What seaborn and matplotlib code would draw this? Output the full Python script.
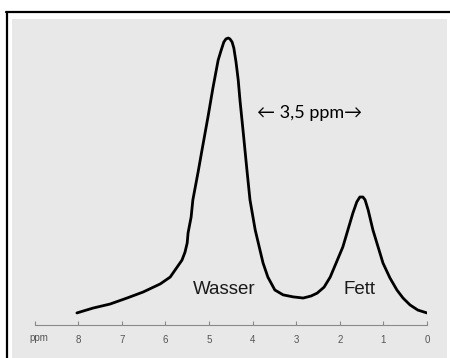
import matplotlib
matplotlib.use("Agg")
import matplotlib.pyplot as plt
from matplotlib.patches import Rectangle
from matplotlib.lines import Line2D
import seaborn as sns
import pandas as pd

# chemical shift (ppm) and relative signal intensity
ppm = [8.03, 7.66, 7.27, 6.88, 6.51, 6.12, 5.89, 5.73, 5.62, 5.55, 5.50, 5.48, 5.41,
       5.37, 5.25, 5.16, 5.02, 4.91, 4.79, 4.72, 4.66, 4.61, 4.56, 4.52, 4.47, 4.43,
       4.38, 4.33, 4.29, 4.22, 4.13, 4.06, 3.94, 3.76, 3.65, 3.49, 3.30, 3.07, 2.84,
       2.66, 2.52, 2.36, 2.22, 1.93, 1.70, 1.61, 1.54, 1.47, 1.42, 1.35, 1.24, 1.01,
       0.85, 0.69, 0.55, 0.39, 0.21, 0.0]
intensity = [4.2, 5.9, 7.3, 9.4, 11.5, 14.3, 16.7, 20.2, 22.6, 25.4, 28.6, 32.1, 37.6,
             43.6, 53.3, 61.0, 72.8, 82.6, 92.3, 95.8, 98.6, 99.7, 100.0, 99.7, 98.6, 96.5,
             91.6, 85.4, 78.4, 67.9, 54.0, 43.6, 33.1, 21.6, 16.7, 12.2, 10.5, 9.8, 9.4,
             10.1, 11.1, 13.2, 16.7, 27.2, 39.0, 42.9, 44.6, 44.6, 43.6, 40.1, 33.1, 21.6,
             16.4, 12.2, 9.4, 7.0, 5.2, 4.2]
tick_values = [8, 7, 6, 5, 4, 3, 2, 1, 0]
tick_labels = ["8", "7", "6", "5", "4", "3", "2", "1", "0"]
axis_unit = "ppm"
peak_labels = ["Wasser", "Fett"]
shift_label = "\u2190 3,5 ppm\u2192"

df = pd.DataFrame({"ppm": ppm, "intensity": intensity})

sns.set_style("white")
W, H = 450, 358
fig = plt.figure(figsize=(W / 100, H / 100), dpi=100)
fig.patch.set_facecolor("white")

# gray slide panel and black frame
fig.add_artist(Rectangle((12 / W, 0), (447 - 12) / W, (H - 19) / H,
                         transform=fig.transFigure, facecolor="#e8e8e8",
                         edgecolor="none", zorder=0))
fig.add_artist(Line2D([6.5 / W, 6.5 / W], [0, 1 - 11.5 / H], transform=fig.transFigure,
                      color="black", lw=1.6, zorder=1))
fig.add_artist(Line2D([5.7 / W, 1.0], [1 - 11.5 / H, 1 - 11.5 / H], transform=fig.transFigure,
                      color="black", lw=1.6, zorder=1))

ax = fig.add_axes([34.6 / W, 33 / H, 392.4 / W, (325 - 30) / H])
ax.patch.set_alpha(0)
sns.lineplot(data=df, x="ppm", y="intensity", ax=ax, color="black", lw=2.0, sort=False)
ax.set_xlim(9, 0)
ax.set_ylim(0, 102.8)
ax.set_xlabel("")
ax.set_ylabel("")
ax.set_yticks([])
for s in ["top", "right", "left"]:
    ax.spines[s].set_visible(False)
ax.spines["bottom"].set_color("#8a8a8a")
ax.spines["bottom"].set_linewidth(0.8)
ax.set_xticks([9] + tick_values)
ax.set_xticklabels([""] + tick_labels, fontsize=7, color="#555555", family="Liberation Sans")
ax.tick_params(axis="x", bottom=True, direction="in", length=3, width=0.8,
               color="#8a8a8a", pad=7)
ax.text(8.9, -4.6, axis_unit, fontsize=7, color="#555555", family="Liberation Sans",
        ha="center", va="center")

ax.text(4.66, 12.2, peak_labels[0], fontsize=13.5, color="#1a1a1a",
        family="Liberation Sans", ha="center", va="center")
ax.text(1.54, 12.2, peak_labels[1], fontsize=13.5, color="#1a1a1a",
        family="Liberation Sans", ha="center", va="center")
ax.text(3.90, 73.9, shift_label, fontsize=13, color="black",
        family=["Lato", "DejaVu Sans"], ha="left", va="center")

fig.savefig("out.png", dpi=100)
